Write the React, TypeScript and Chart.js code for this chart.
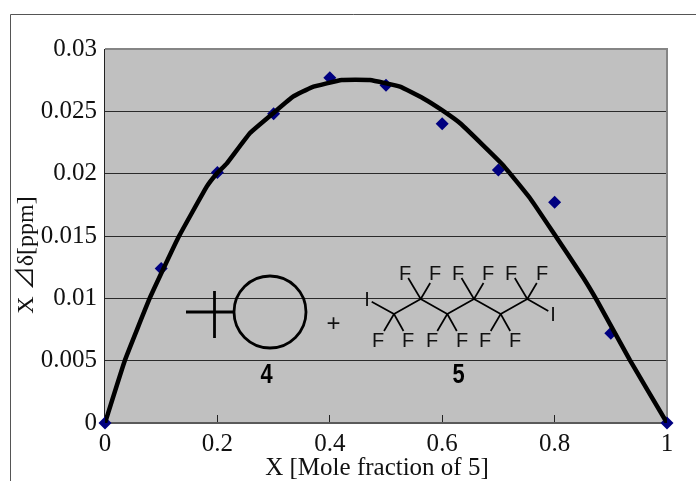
import React, { useEffect, useRef } from "react";
import { Chart, registerables } from "chart.js";

Chart.register(...registerables);

const moleFraction = [0, 0.1, 0.2, 0.3, 0.4, 0.5, 0.6, 0.7, 0.8, 0.9, 1];
const measured = [0, 0.0124, 0.0201, 0.0248, 0.0277, 0.0271, 0.024, 0.0203, 0.0177, 0.0072, 0];
const fitX = [0, 0.0356, 0.08, 0.13, 0.181, 0.1987, 0.2165, 0.258, 0.3025, 0.3345, 0.3678, 0.4212, 0.4715, 0.5249, 0.5658, 0.599, 0.6335, 0.708, 0.756, 0.797, 0.8505, 0.877, 0.934, 1];
const fitY = [0, 0.00505, 0.01005, 0.01484, 0.01896, 0.02, 0.0208, 0.02326, 0.02497, 0.02617, 0.02693, 0.02751, 0.02751, 0.02698, 0.02605, 0.02511, 0.02398, 0.0207, 0.01805, 0.01532, 0.0117, 0.0097, 0.00505, 0];
const xTicks = [0, 0.2, 0.4, 0.6, 0.8, 1];
const xTitle = "X [Mole fraction of 5]";
const yTitle = "X ⊿δ[ppm]";
const SERIF = '"Liberation Serif", "Noto Sans CJK JP", serif';
const SANS = '"Liberation Sans", sans-serif';

const decorations = {
  id: "decorations",
  beforeDraw(chart: any) {
    const { ctx, chartArea: a, width, height } = chart;
    ctx.save();
    ctx.fillStyle = "#ffffff";
    ctx.fillRect(0, 0, width, height);
    ctx.strokeStyle = "#555555";
    ctx.lineWidth = 1;
    ctx.beginPath();
    ctx.moveTo(10.5, height);
    ctx.lineTo(10.5, 14.5);
    ctx.lineTo(width, 14.5);
    ctx.stroke();
    ctx.fillStyle = "#c0c0c0";
    ctx.fillRect(a.left, a.top, a.right - a.left, a.bottom - a.top);
    ctx.restore();
  },
  beforeDatasetsDraw(chart: any) {
    const { ctx, chartArea: a } = chart;
    ctx.save();
    ctx.strokeStyle = "#858585";
    ctx.lineWidth = 2;
    ctx.beginPath();
    ctx.moveTo(a.left, a.top);
    ctx.lineTo(a.right, a.top);
    ctx.lineTo(a.right, a.bottom);
    ctx.stroke();
    ctx.strokeStyle = "#5a5a5a";
    ctx.beginPath();
    ctx.moveTo(a.left, a.bottom);
    ctx.lineTo(a.right, a.bottom);
    ctx.stroke();
    ctx.strokeStyle = "#222222";
    ctx.lineWidth = 1;
    ctx.beginPath();
    ctx.moveTo(a.left - 0.5, a.top);
    ctx.lineTo(a.left - 0.5, a.bottom);
    ctx.stroke();
    drawMolecule(ctx);
    ctx.restore();
  },
};

function drawMolecule(ctx: CanvasRenderingContext2D) {
  const stroke = (pts: number[][], w: number) => {
    ctx.lineWidth = w;
    ctx.beginPath();
    pts.forEach((p, i) => (i ? ctx.lineTo(p[0], p[1]) : ctx.moveTo(p[0], p[1])));
    ctx.stroke();
  };
  ctx.strokeStyle = "#000000";
  stroke([[186, 312], [233, 312]], 2.8);
  stroke([[214.5, 291], [214.5, 338]], 2.8);
  ctx.lineWidth = 2.8;
  ctx.beginPath();
  ctx.arc(270, 312, 36, 0, Math.PI * 2);
  ctx.stroke();

  stroke([[371.7, 301.7], [394, 314], [420.7, 299], [447.3, 314], [474, 299], [500.7, 314], [527.3, 299], [548.3, 311]], 1.7);
  [420.7, 474, 527.3].forEach((x) => {
    stroke([[x, 299], [x - 12.5, 278]], 1.7);
    stroke([[x, 299], [x + 9.5, 283]], 1.7);
  });
  [394, 447.3, 500.7].forEach((x) => {
    stroke([[x, 314], [x - 10, 331]], 1.7);
    stroke([[x, 314], [x + 9.5, 331]], 1.7);
  });

  ctx.fillStyle = "#111111";
  ctx.textAlign = "center";
  ctx.textBaseline = "middle";
  ctx.font = `20px ${SANS}`;
  [405, 435, 458, 488, 511, 542].forEach((x) => ctx.fillText("F", x, 274));
  [378, 408, 432, 462, 485, 515].forEach((x) => ctx.fillText("F", x, 341));
  ctx.fillText("I", 367, 300);
  ctx.fillText("I", 553, 315);
  ctx.font = `24px ${SANS}`;
  ctx.fillText("+", 333.5, 324);
  ctx.fillStyle = "#000000";
  ctx.font = `bold 28px ${SANS}`;
  [["4", 266.5], ["5", 458.5]].forEach(([label, x]) => {
    ctx.save();
    ctx.translate(x as number, 375);
    ctx.scale(0.78, 1);
    ctx.fillText(label as string, 0, 0);
    ctx.restore();
  });
}

function shiftTitle(scale: any, dx: number, dy: number) {
  if (scale.__shifted) return;
  scale.__shifted = true;
  const original = scale.drawTitle;
  scale.drawTitle = function (...args: any[]) {
    const c = this.ctx;
    c.save();
    c.translate(dx, dy);
    original.apply(this, args);
    c.restore();
  };
}

export default function App() {
  const ref = useRef<HTMLCanvasElement>(null);
  useEffect(() => {
    const chart = new Chart(ref.current!, {
      type: "scatter",
      data: {
        datasets: [
          {
            label: "Fit",
            data: fitX.map((x, i) => ({ x, y: fitY[i] })),
            showLine: true,
            borderColor: "#000000",
            borderWidth: 4.5,
            tension: 0.1,
            pointRadius: 0,
            order: 1,
          },
          {
            label: "Measured",
            data: moleFraction.map((x, i) => ({ x, y: measured[i] })),
            showLine: false,
            pointStyle: "rectRot",
            pointRadius: 6.5,
            pointBackgroundColor: "#000080",
            pointBorderColor: "#000080",
            pointBorderWidth: 0,
            clip: false,
            order: 2,
          },
        ],
      } as any,
      options: {
        responsive: false,
        animation: false,
        layout: { padding: { left: 0, top: 49, right: 29, bottom: 0 } },
        plugins: { legend: { display: false }, tooltip: { enabled: false } },
        scales: {
          x: {
            type: "linear",
            min: 0,
            max: 1,
            border: { display: false },
            afterBuildTicks: (s: any) => {
              s.ticks = xTicks.map((value) => ({ value }));
            },
            afterFit: (s: any) => {
              s.height = 58;
              shiftTitle(s, -9, 2);
            },
            grid: { drawOnChartArea: false, drawTicks: true, tickLength: -8, tickWidth: 1, tickColor: "#222222" },
            ticks: { color: "#111111", font: { family: SERIF, size: 25 }, padding: 14, maxRotation: 0, autoSkip: false, callback: (v: any) => String(v) },
            title: { display: true, text: xTitle, color: "#111111", font: { family: SERIF, size: 25 }, padding: { top: 0, bottom: 0 } },
          },
          y: {
            type: "linear",
            min: 0,
            max: 0.03,
            border: { display: false },
            afterFit: (s: any) => {
              s.width = 105;
              shiftTitle(s, 0, 19);
            },
            grid: { color: "#2a2a2a", lineWidth: 1, drawTicks: false },
            ticks: { color: "#111111", stepSize: 0.005, font: { family: SERIF, size: 25 }, padding: 8, callback: (v: any) => String(+Number(v).toFixed(3)) },
            title: { display: true, text: yTitle, color: "#111111", font: { family: SERIF, size: 24 }, padding: { top: 12, bottom: 0 } },
          },
        },
      },
      plugins: [decorations],
    } as any);
    return () => chart.destroy();
  }, []);
  return (
    <canvas
      ref={ref}
      width={696}
      height={481}
      style={{ position: "fixed", left: 0, top: 0, width: 696, height: 481, display: "block" }}
    />
  );
}
